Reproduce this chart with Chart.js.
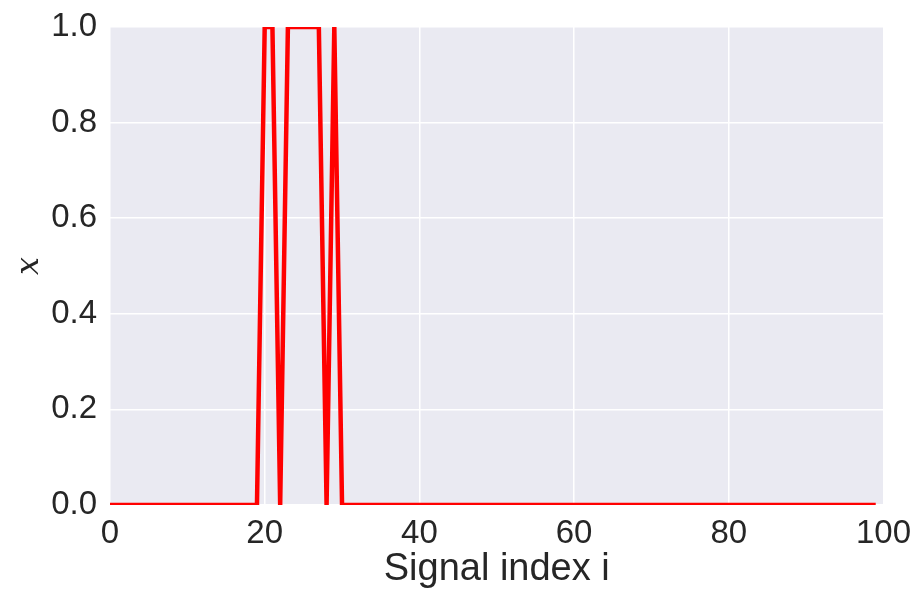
<!DOCTYPE html>
<html>
<head>
<meta charset="utf-8">
<script src="https://cdn.jsdelivr.net/npm/chart.js@4/dist/chart.umd.min.js"></script>
<style>
  html, body { margin: 0; padding: 0; background: #fff; }
  #wrap { width: 923px; height: 600px; }
</style>
</head>
<body>
<div id="wrap"><canvas id="chart"></canvas></div>
<script>
// signal x_i for i = 0..99
const signal = [
  0, 0, 0, 0, 0, 0, 0, 0, 0, 0,
  0, 0, 0, 0, 0, 0, 0, 0, 0, 0,
  1, 1, 0, 1, 1, 1, 1, 1, 0, 1,
  0, 0, 0, 0, 0, 0, 0, 0, 0, 0,
  0, 0, 0, 0, 0, 0, 0, 0, 0, 0,
  0, 0, 0, 0, 0, 0, 0, 0, 0, 0,
  0, 0, 0, 0, 0, 0, 0, 0, 0, 0,
  0, 0, 0, 0, 0, 0, 0, 0, 0, 0,
  0, 0, 0, 0, 0, 0, 0, 0, 0, 0,
  0, 0, 0, 0, 0, 0, 0, 0, 0, 0
];
const xTicks = [0, 20, 40, 60, 80, 100];
const yTicks = [0.0, 0.2, 0.4, 0.6, 0.8, 1.0];

const points = signal.map((v, i) => ({ x: i, y: v }));

const bgPlugin = {
  id: "plotBg",
  beforeDraw(chart) {
    const { ctx, chartArea: a } = chart;
    ctx.save();
    ctx.fillStyle = "#EAEAF2";
    ctx.fillRect(a.left, a.top, a.right - a.left, a.bottom - a.top);
    ctx.restore();
  }
};

const family = "Arial, 'Liberation Sans', sans-serif";

new Chart(document.getElementById("chart"), {
  type: "line",
  data: {
    datasets: [{
      data: points,
      borderColor: "#ff0000",
      borderWidth: 4.5,
      pointRadius: 0,
      tension: 0,
      fill: false
    }]
  },
  options: {
    responsive: true,
    maintainAspectRatio: false,
    animation: false,
    layout: { padding: { top: 27, right: 39, left: 0, bottom: 0 } },
    plugins: { legend: { display: false }, tooltip: { enabled: false } },
    scales: {
      x: {
        type: "linear",
        min: 0,
        max: 100,
        afterBuildTicks: s => { s.ticks = xTicks.map(v => ({ value: v })); },
        afterFit: s => { s.height = 95; },
        grid: { color: "#ffffff", lineWidth: 1.5, drawTicks: false },
        border: { display: false },
        ticks: { color: "#262626", font: { family, size: 33, lineHeight: 1 }, padding: 12, maxRotation: 0 },
        title: {
          display: true,
          text: "Signal index i",
          color: "#262626",
          font: { family, size: 38 },
          padding: { top: 0, bottom: 8 }
        }
      },
      y: {
        min: 0,
        max: 1,
        afterBuildTicks: s => { s.ticks = yTicks.map(v => ({ value: v })); },
        afterFit: s => { s.width = 110; },
        grid: { color: "#ffffff", lineWidth: 1.5, drawTicks: false },
        border: { display: false },
        ticks: {
          color: "#262626",
          font: { family, size: 33, lineHeight: 0.7 },
          padding: 13,
          callback: v => v.toFixed(1)
        },
        title: {
          display: true,
          text: "x",
          color: "#262626",
          font: { family: "'DejaVu Serif', serif", size: 32, style: "italic" },
          padding: { top: 10, bottom: 0 }
        }
      }
    }
  },
  plugins: [bgPlugin]
});
</script>
</body>
</html>
